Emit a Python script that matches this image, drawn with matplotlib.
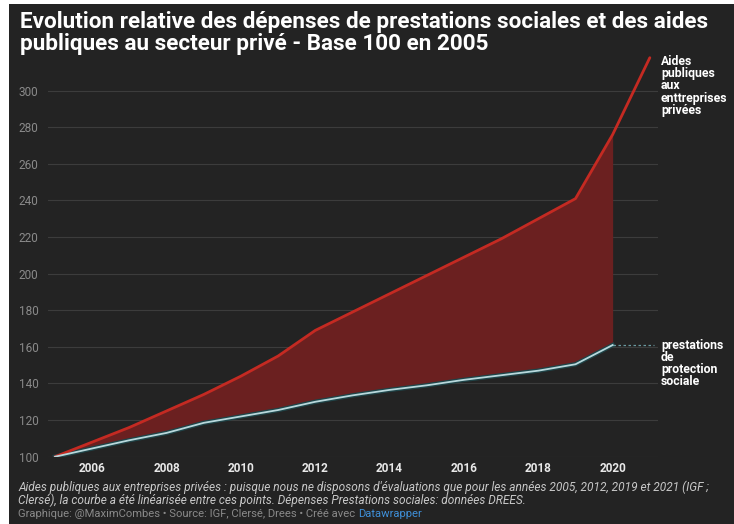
import matplotlib.pyplot as plt
from matplotlib.patches import Rectangle

years = list(range(2005, 2022))
aides = [100, 108, 116, 125, 134, 144, 155, 169, 179, 189, 199, 209, 219, 230, 241, 276, 318]
prestations = [100, 104.5, 109, 113, 118.5, 122, 125.5, 130, 133.5, 136.5, 139, 142, 144.5,
               147, 150.5, 161]
yticks = [100, 120, 140, 160, 180, 200, 220, 240, 260, 280, 300]
xticks = [2006, 2008, 2010, 2012, 2014, 2016, 2018, 2020]

title = ("Evolution relative des dépenses de prestations sociales et des aides\n"
         "publiques au secteur privé - Base 100 en 2005")
note1 = ("Aides publiques aux entreprises privées : puisque nous ne disposons d'évaluations "
         "que pour les années 2005, 2012, 2019 et 2021 (IGF ;")
note2 = ("Clersé), la courbe a été linéarisée entre ces points. Dépenses Prestations sociales: "
         "données DREES.")

bg = "#232323"
plt.rcParams["font.family"] = ["Roboto", "DejaVu Sans"]

W, H = 734, 524
fig = plt.figure(figsize=(W / 100, H / 100), dpi=100, facecolor="white")
fig.patches.append(Rectangle((9 / W, 0), 1 - 9 / W, 1 - 4 / H, transform=fig.transFigure,
                             facecolor=bg, edgecolor="none", zorder=-5))

# axes: x from 48 to 658 px, y from 50 to 456.7 px
ax = fig.add_axes([48 / W, 1 - 456.7 / H, 610 / W, 406.7 / H])
ax.set_zorder(2)
ax.patch.set_alpha(0)

n = len(prestations)
ax.fill_between(years[:n], prestations, aides[:n], color="#6b2020", lw=0, zorder=1)
ax.plot(years, aides, color="#c42a22", lw=2, zorder=3, solid_capstyle="round")
ax.plot(years[:n], prestations, color="#1f4448", lw=3.2, zorder=2)
ax.plot(years[:n], prestations, color="#b8d8dc", lw=1.3, zorder=3)
ax.plot([years[n - 1], 2021.1], [prestations[-1], prestations[-1]], color="#6a9aa0",
        lw=0.9, ls=(0, (2, 2)), zorder=2)

ax.set_xlim(2004.81, 2021.22)
ax.set_ylim(100, 322.2)
ax.set_yticks(yticks)
ax.set_xticks(xticks)
ax.grid(axis="y", color="#3c3c3c", lw=0.8)
ax.set_axisbelow(True)
for s in ax.spines.values():
    s.set_visible(False)
ax.tick_params(axis="y", length=0, pad=7, labelsize=8.5, labelcolor="#8a8a8a")
ax.tick_params(axis="x", length=0, pad=4, labelsize=8.5, labelcolor="#e8e8e8")
for t in ax.get_xticklabels():
    t.set_fontweight("bold")

ax.text(2021.3, 319.5, "Aides\npubliques\naux\nenttreprises\nprivées", color="white",
        fontsize=8.8, fontweight="bold", va="top", ha="left", linespacing=0.92)
ax.text(2021.3, 164.5, "prestations\nde\nprotection\nsociale", color="white",
        fontsize=8.8, fontweight="bold", va="top", ha="left", linespacing=0.92)

fig.text(20 / W, 1 - 11 / H, title, color="white", fontsize=16.2, fontweight="bold",
         va="top", ha="left", linespacing=1.0)
fig.text(18 / W, 1 - 487 / H, note1, color="#c8c8c8", fontsize=8.55, style="italic",
         va="center", ha="left")
fig.text(18 / W, 1 - 500 / H, note2, color="#c8c8c8", fontsize=8.55, style="italic",
         va="center", ha="left")
credit = fig.text(18 / W, 1 - 514 / H,
                  "Graphique: @MaximCombes • Source: IGF, Clersé, Drees • Créé avec",
                  color="#8a8a8a", fontsize=8.1, va="center", ha="left")
ax.annotate("Datawrapper", xy=(1, 0), xycoords=credit, xytext=(2.5, 0),
            textcoords="offset points", color="#3f8fd8", fontsize=8.1,
            va="bottom", ha="left", annotation_clip=False)

fig.savefig("out.png", dpi=100, facecolor="white")
